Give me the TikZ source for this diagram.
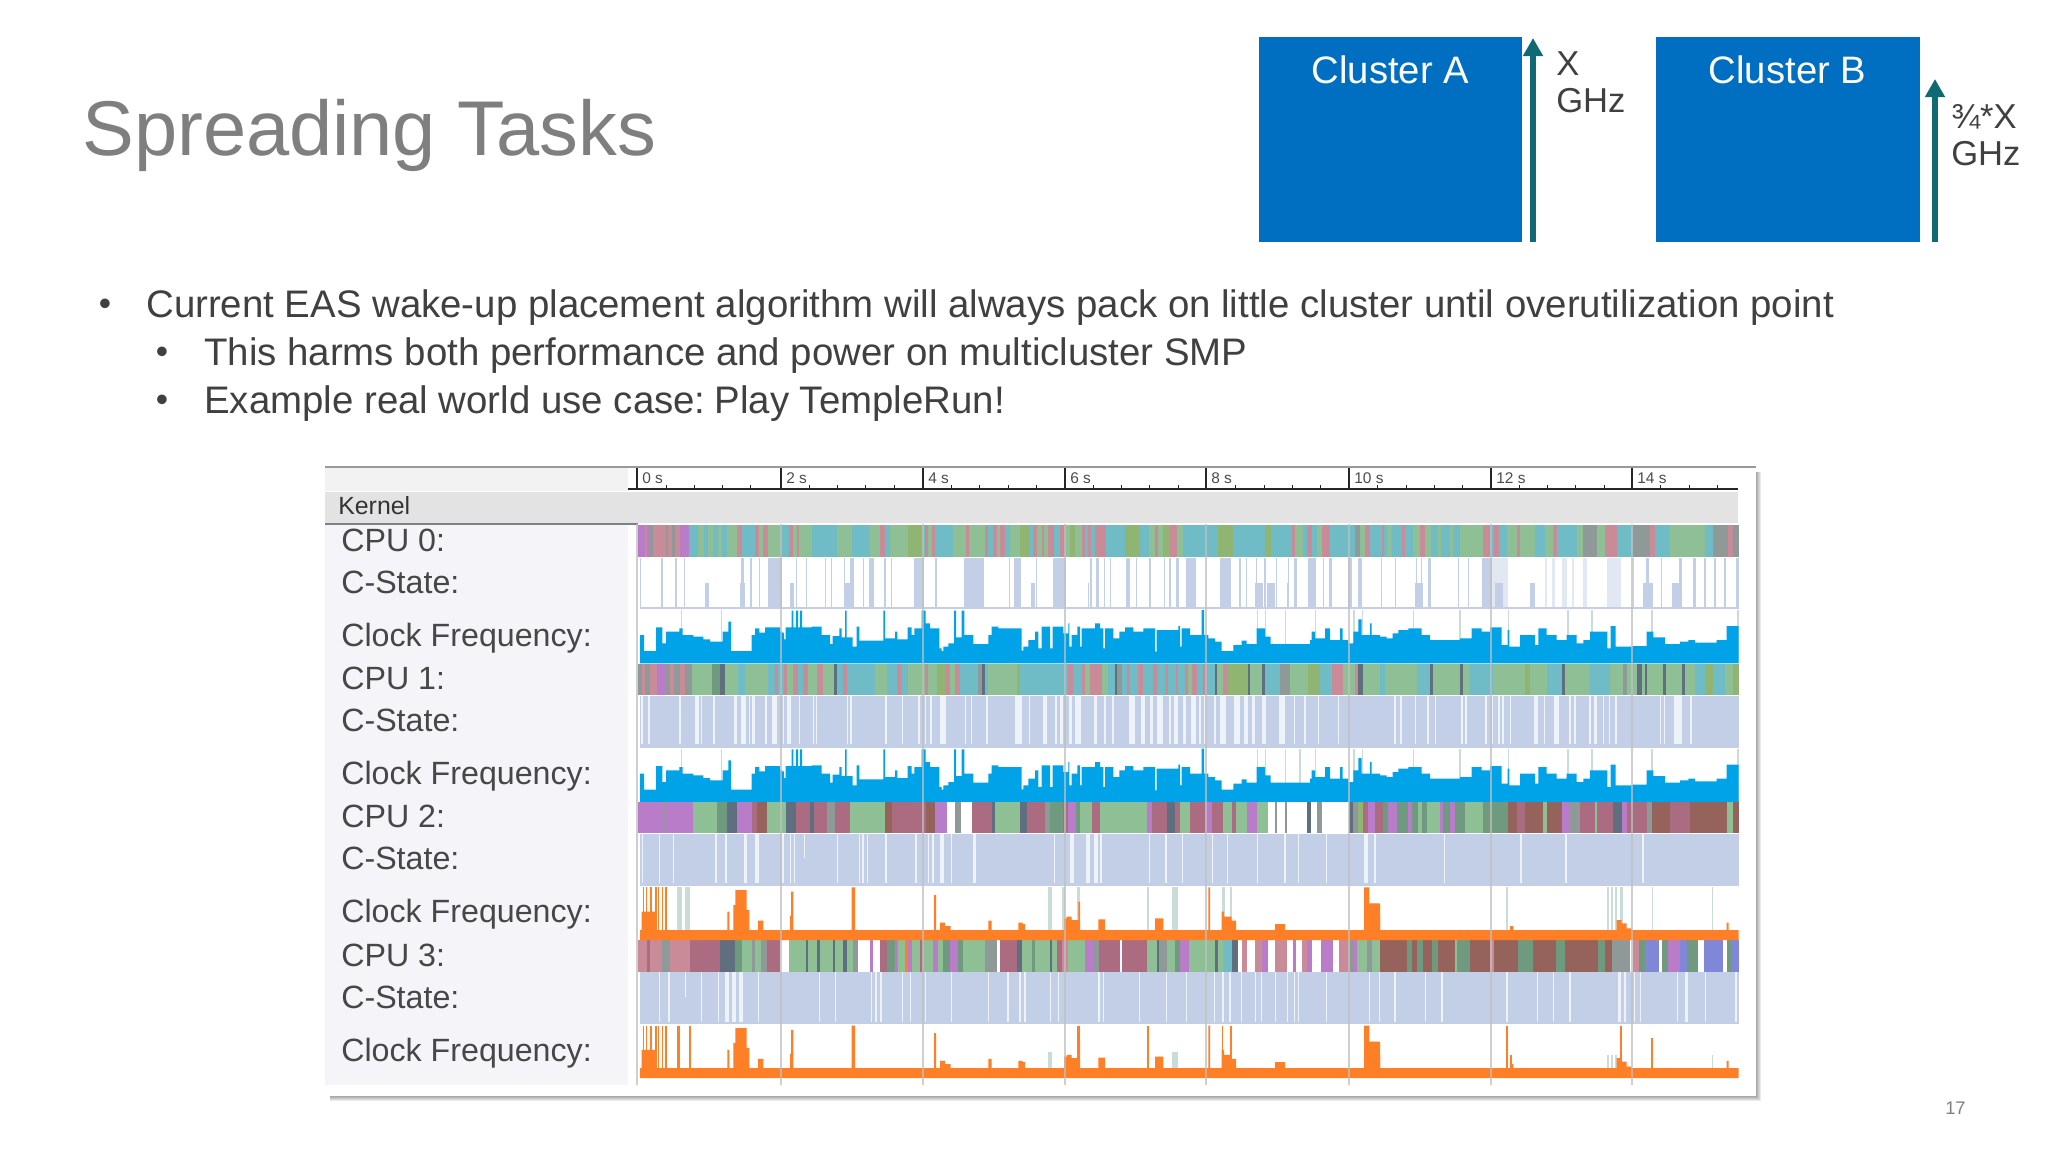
\documentclass[tikz,border=0pt]{standalone}
\usepackage{fontspec}
\setmainfont{Liberation Sans}
\usetikzlibrary{arrows.meta}
\definecolor{titlegray}{HTML}{7F7F7F}
\definecolor{bodygray}{HTML}{404040}
\definecolor{clusterblue}{HTML}{006FC1}
\definecolor{arrowteal}{HTML}{0F6A75}
\definecolor{tl}{HTML}{6FBCC6}
\definecolor{gn}{HTML}{8FBF95}
\definecolor{rs}{HTML}{C98B97}
\definecolor{pp}{HTML}{B87CC8}
\definecolor{mv}{HTML}{AB6C82}
\definecolor{bw}{HTML}{96625C}
\definecolor{ol}{HTML}{90B572}
\definecolor{dk}{HTML}{5F6F80}
\definecolor{dg}{HTML}{6F9A80}
\definecolor{gy}{HTML}{8F9A98}
\definecolor{bl}{HTML}{8086D8}
\definecolor{csbase}{HTML}{C3CFE6}
\definecolor{idlewhite}{HTML}{EEF2F9}
\definecolor{sidepanel}{HTML}{F5F5F9}
\definecolor{freqblue}{HTML}{00A2E8}
\definecolor{freqorange}{HTML}{FF7F27}
\definecolor{pale}{HTML}{C9DCD8}
\tikzset{
  panel/.style 2 args={shift={(#1,#2)},scale=0.33333},
  slidetext/.style={inner sep=0pt,anchor=base west,text=bodygray,font=\fontsize{27.3}{30}\selectfont},
  freqtext/.style={inner sep=0pt,anchor=base west,text=bodygray,font=\fontsize{24.6}{30}\selectfont},
  bulletmark/.style={inner sep=0pt,anchor=center,text=bodygray,font=\fontsize{25}{30}\selectfont},
  clustertext/.style={inner sep=0pt,anchor=base,text=white,font=\fontsize{27.2}{30}\selectfont},
  tracktext/.style={inner sep=0pt,anchor=base west,text=black!72,font=\fontsize{22.9}{26}\selectfont},
  freqarrow/.style={arrowteal,line width=4.3pt,-{Triangle[width=13.5pt,length=12.8pt]}},
}
\newcommand{\bars}[4]{\foreach \a/\b in {#4} {\fill[#1] (\a,#2) rectangle (\b,#3);}}
\newcommand{\idlebars}[5]{\foreach \a/\b in {#5} {\fill[#1] (\a-#4,#2) rectangle (\b+#4,#3);}}
\newcommand{\cpustrip}[4]{\foreach \e/\c [remember=\e as \s (initially #3)] in {#4} {\fill[\c] (\s,#1) rectangle (\e,#2);}}
\newcommand{\freqwave}[4]{\fill[#1] (#2,#3) \foreach \e/\l in #4 { |- (\e,\l) } -- cycle;}
\newcommand{\bluea}{42/345,78/393,97/322,108/370,148/335,158/325,190/345,220/350,240/358,278/365,295/335,303/305,365/393,375/345,388/325,405/338,450/322,456/335,462/338,467/358,485/322,490/272,498/322,504/272,510/322,516/272,545/322,575/320,600/345,608/372,628/348,635/325,645/352,650/272,668/352,680/380,688/320,745/362,760/362,765/272,795/355,802/335,833/358,845/322,853/345,875/325,887/272,900/310,928/325,935/385,940/393,955/380,972/370,978/272,995/352,1003/272,1030/345,1075/372,1085/345,1105/320,1140/325,1140/430}
\newcommand{\blueb}{65/325,70/392,85/380,105/360,115/335,125/385,150/320,158/385,190/320,205/340,208/310,215/380,232/345,240/320,245/380,285/325,300/310,310/325,315/385,340/325,358/355,375/335,400/322,430/335,465/325,470/395,535/330,540/318,545/380,570/325,605/345,612/270,625/345,645/355,665/365,700/393,725/375,740/362,770/372,795/325,812/350,930/372,935/360,945/335,975/355,990/325,1020/360,1028/325,1045/360,1060/370,1075/335,1085/298,1110/345,1115/310,1140/345,1140/430}
\newcommand{\bluec}{50/350,68/355,85/340,115/330,155/325,180/345,270/360,305/355,335/325,360/335,395/322,413/375,418/330,450/380,495/345,505/375,530/325,560/345,590/360,620/345,640/370,660/360,712/335,722/385,737/318,787/380,830/378,850/335,885/352,930/372,955/365,975/360,1040/368,1070/360,1106/318,1106/430}
\newcommand{\orangea}{35/390,75/335,292/390,298/335,310/390,316/315,350/270,358/330,384/390,400/362,480/390,483/347,490/275,665/390,675/262,912/390,918/285,930/390,945/368,962/378,1075/390,1085/362,1140/390,1140/420}
\newcommand{\orangeb}{55/390,68/368,75/372,192/390,200/355,215/350,235/360,240/305,295/390,315/358,465/390,490/355,625/390,630/262,665/390,672/335,695/350,708/362,825/390,855/372,1092/390,1108/262,1128/310,1140/350,1140/420}
\newcommand{\orangec}{5/310,18/310,30/365,420/390,430/378,740/390,755/360,770/370,785/385,1070/390,1076/368,1106/390,1106/420}
\begin{document}
\begin{tikzpicture}[x=0.025cm,y=-0.025cm]
\useasboundingbox (0,0) rectangle (2048,1152);
\fill[white] (0,0) rectangle (2048,1152);
\node[inner sep=0pt,anchor=base west,text=titlegray,font=\fontsize{55.2}{60}\selectfont] (title) at (82,155) {Spreading Tasks};
\fill[clusterblue] (1259,37) rectangle (1522,242);
\fill[clusterblue] (1656,37) rectangle (1920,242);
\node[clustertext] (clusterA) at (1390.5,83) {Cluster A};
\node[clustertext] (clusterB) at (1787.5,83) {Cluster B};
\coordinate (arrowAbase) at (1533,242);
\coordinate (arrowAtip) at (1533,38);
\coordinate (arrowBbase) at (1935,242);
\coordinate (arrowBtip) at (1935,79);
\draw[freqarrow] (arrowAbase) -- (arrowAtip);
\draw[freqarrow] (arrowBbase) -- (arrowBtip);
\node[freqtext] (xlabel) at (1556,75) {X};
\node[freqtext] (ghzA) at (1556,112) {GHz};
\node[freqtext] (xfrac) at (1951,128) {¾*X};
\node[freqtext] (ghzB) at (1951,165) {GHz};
\node[bulletmark] (bulletA) at (105,307) {•};
\node[slidetext] (lineA) at (146,317) {Current EAS wake-up placement algorithm will always pack on little cluster until overutilization point};
\node[bulletmark] (bulletB) at (162,355) {•};
\node[slidetext] (lineB) at (204,365) {This harms both performance and power on multicluster SMP};
\node[bulletmark] (bulletC) at (162,403) {•};
\node[slidetext] (lineC) at (204,413) {Example real world use case:\kern-3.7pt{} Play TempleRun!};
\foreach \d in {1,...,6} {\fill[black,opacity=0.08] (330,472) rectangle (1755+\d,1095+\d);}
\fill[white] (325,467) rectangle (1756,1096);
\fill[black!5] (325,468) rectangle (628,491);
\fill[sidepanel] (325,525) rectangle (628,1085);
\fill[black!11] (325,492) rectangle (1738,523);
\draw[black!40,line width=1.5pt] (325,467) -- (1756,467);
\draw[black!50,line width=1pt] (325,524) -- (638,524);
\draw[black!85,line width=1.2pt] (628,489) -- (1738,489);
\foreach \x/\t in {637/0,781/2,923/4,1065/6,1206/8,1349/10,1491/12,1632/14} {
  \draw[black!85,line width=0.8pt] (\x,468) -- (\x,489);
  \node[inner sep=0pt,anchor=base west,text=black!70,font=\fontsize{11}{12}\selectfont] (tick\t) at (\x+5,483) {\t\ s};
}
\foreach \x in {666,694,722,750,809,837,865,894,951,979,1008,1036,1093,1121,1149,1178,1235,1264,1292,1320,1377,1406,1434,1462,1519,1547,1575,1604,1660,1689,1717} {
  \draw[black!85,line width=0.7pt] (\x,489) -- (\x,485);
}
\node[inner sep=0pt,anchor=base west,text=black!80,font=\fontsize{17.7}{20}\selectfont] (kernel) at (338,514) {Kernel};
\foreach \n [evaluate=\n as \dy using \n*138.4] in {0,...,3} {
  \node[tracktext] (cpu\n) at (341,551+\dy) {CPU \n:};
  \node[tracktext] (cstate\n) at (341,593+\dy) {C-State:};
  \node[tracktext] (clock\n) at (341,646+\dy) {Clock Frequency:};
}
\foreach \y in {557.7,696,834,972} {\fill[csbase] (640,\y) rectangle (1738.7,\y+51.5);}
\begin{scope}[panel={630}{520}]
\cpustrip{15}{110}{23}{45/pp,50/rs,58/pp,68/gy,107/rs,115/gy,125/rs,135/gy,150/rs,178/pp,205/tl,222/gn,235/tl,250/gn,265/tl,275/gn,290/tl,320/gn,335/rs,375/tl,388/rs,400/gn,413/rs,453/gn,478/tl,488/rs,500/gn,507/rs,545/gn,620/tl,665/gn,720/tl,750/gn,765/rs,780/tl,835/gn,880/ol,885/tl,893/rs,905/gn,915/rs,970/tl,1008/gn,1018/rs,1065/gn,1075/rs,1090/tl,1100/rs,1110/gn,1125/rs,1140/tl}
\idlebars{white}{113}{262}{3}{36/44,48/62,68/74,78/90,102/132,143/158,168/197,202/210,213/222,226/238,242/250,256/272,280/285,292/300,305/330,345/358,370/384,392/398,405/412,460/468,472/482,490/495,503/512,520/526,534/546,552/560,568/582,590/600,608/640,648/656,675/695,705/715,735/760,770/780,790/798,805/825,830/850,885/912,925/945,950/970,975/1000,1065/1085,1090/1100,1105/1115,1120/1135}
\bars{csbase}{190}{262}{226/238,330/345,480/492,645/660}
\cpustrip{432}{525}{23}{35/gy,45/rs,60/gy,80/rs,105/pp,120/gy,132/rs,150/gy,165/rs,185/gy,245/gn,270/dg,285/dk,325/gn,345/tl,415/gn,435/tl,445/rs,462/tl,470/rs,490/gn,505/rs,520/tl,535/rs,560/gn,580/rs,612/gn,620/dk,640/tl,650/rs,735/tl,770/gn,800/tl,815/rs,835/tl,885/gn,895/rs,920/gn,945/ol,960/rs,975/gn,990/rs,1045/tl,1055/gy,1065/dk,1075/tl,1140/gn}
\idlebars{idlewhite}{527}{673}{-1}{32/40,52/60,145/153,193/207,212/218,248/255,310/322,332/348,355/360,365/375,405/412,425/442,458/463,470/484,505/512,548/552,558/562,650/656,660/668,765/771,815/820,862/870,885/890,898/906,928/950,1005/1010,1022/1027,1068/1076}
\bars{pale}{430}{270}{154/157,274/277}
\freqwave{freqblue}{30}{430}{\bluea}
\end{scope}
\begin{scope}[panel={1000}{520}]
\cpustrip{15}{110}{30}{60/gn,90/ol,100/tl,110/rs,125/gn,132/rs,145/gn,163/rs,180/tl,195/rs,210/gn,225/ol,245/gn,255/rs,265/tl,272/rs,285/tl,318/rs,375/tl,420/ol,448/tl,465/gn,475/rs,490/gn,510/ol,530/rs,550/gn,655/tl,700/ol,795/tl,812/ol,875/tl,885/rs,910/gn,920/tl,935/rs,950/tl,965/gn,990/rs,1065/tl,1080/gy,1095/gn,1110/rs,1140/tl}
\idlebars{white}{113}{262}{3}{32/40,65/78,85/105,115/125,128/140,145/155,200/225,228/235,240/245,250/268,280/285,300/310,318/328,335/345,350/375,392/405,415/425,430/445,455/468,475/490,498/505,515/525,540/555,590/605,612/618,625/632,640/658,695/715,725/735,745/765,775/790,800/825,835/860,870/880,895/920,950/965,975/985,1000/1040,1060/1070,1090/1140}
\bars{csbase}{190}{262}{92/105,265/268,765/790,800/825,860/868}
\cpustrip{432}{525}{30}{50/gn,60/ol,205/tl,218/rs,245/tl,255/rs,270/gn,305/rs,325/gn,345/tl,352/dk,365/gy,380/tl,390/rs,415/tl,430/rs,460/tl,470/rs,495/tl,505/rs,528/tl,535/rs,555/tl,565/rs,575/gn,590/rs,610/tl,620/rs,645/tl,652/dk,670/gn,685/rs,745/ol,750/dk,785/gn,795/dk,840/tl,870/gy,925/gn,960/ol,995/tl,1030/rs,1065/gn,1075/rs,1090/dk,1140/gn}
\idlebars{idlewhite}{527}{673}{-1}{45/68,85/92,128/142,165/172,178/190,205/217,225/245,280/293,312/318,335/342,385/405,422/435,448/460,470/490,505/515,520/535,548/560,572/590,595/605,612/618,640/650,660/678,700/722,730/745,755/765,785/800,835/855,880/885,912/920,952/958,1012/1018}
\bars{pale}{430}{270}{771/775,795/799,855/859,945/949,1060/1064,1085/1089}
\bars{freqblue}{430}{270}{606/611}
\freqwave{freqblue}{30}{430}{\blueb}
\end{scope}
\begin{scope}[panel={1370}{520}]
\cpustrip{15}{110}{30}{35/tl,42/rs,50/tl,65/gn,95/tl,105/rs,130/tl,150/gn,165/rs,182/gn,205/tl,213/gn,240/tl,250/gn,270/tl,340/gn,360/rs,372/tl,388/rs,410/tl,440/gn,450/rs,495/gn,525/tl,550/gn,560/rs,620/tl,640/gn,680/gy,705/gn,740/rs,790/tl,840/gy,855/rs,900/tl,975/gn,1005/gn,1030/tl,1075/gy,1090/rs,1106/gy}
\idlebars{white}{113}{262}{3}{38/50,58/72,80/95,102/135,145/150,160/170,185/190,195/205,210/220,225/245,252/262,270/278,285/292,300/320,325/333,418/495,500/525,530/545,555/575,590/605,612/640,650/675,680/712,720/745,752/785,795/800,808/825,840/850,855/870,880/905,912/925,940/965,980/1000,1010/1030,1040/1060,1070/1095}
\bars{csbase!50!white}{113}{262}{365/415,525/530,545/555,575/590,605/612,640/650,712/752}
\bars{csbase}{190}{262}{135/160,375/400,480/495,820/850,905/930}
\cpustrip{432}{525}{30}{45/tl,140/gn,180/tl,190/dk,270/gn,280/dk,300/gn,370/tl,465/gn,480/ol,530/gn,575/tl,585/dk,660/gn,720/tl,760/gn,770/gy,800/gn,815/dk,825/gn,832/dk,880/gn,888/dk,935/gn,945/dk,975/gn,1005/tl,1030/ol,1065/tl,1090/gn,1106/ol}
\idlebars{idlewhite}{527}{673}{-1}{72/80,90/96,133/140,170/178,193/200,272/280,285/293,345/352,365/370,382/390,395/402,420/425,492/505,520/525,552/567,597/603,612/620,657/663,670/682,697/703,715/722,735/741,870/875,880/887,912/938,960/967}
\bars{pale}{430}{270}{128/132,268/272,413/418,592/596,664/668,843/848,1102/1106}
\freqwave{freqblue}{30}{430}{\bluec}
\end{scope}
\begin{scope}[panel={630}{658.67}]
\bars{pale}{430}{270}{154/157,274/277}
\freqwave{freqblue}{30}{430}{\bluea}
\end{scope}
\begin{scope}[panel={1000}{658.67}]
\bars{pale}{430}{270}{771/775,795/799,855/859,898/902,945/949,1060/1064,1085/1089}
\bars{freqblue}{430}{270}{606/611}
\freqwave{freqblue}{30}{430}{\blueb}
\end{scope}
\begin{scope}[panel={1370}{658.67}]
\bars{pale}{430}{270}{128/132,268/272,413/418,592/596,664/668,843/848,1102/1106}
\freqwave{freqblue}{30}{430}{\bluec}
\end{scope}
\begin{scope}[panel={630}{800}]
\cpustrip{7}{100}{23}{98/pp,108/gy,190/pp,262/gn,290/dg,320/dk,365/pp,380/mv,412/bw,468/gn,497/dk,540/mv,552/dk,590/mv,615/gy,660/mv,765/gn,785/bw,888/mv,915/bw,950/pp,975/white,992/gy,1025/white,1085/mv,1095/dk,1140/gn}
\idlebars{idlewhite}{102}{250}{-1}{36/41,85/91,127/132,255/261,285/291,340/352,375/387,455/462,478/485,490/496,520/526,620/626,685/690,695/702,710/716,765/771,855/861,893/898,905/912,930/942,962/967,1028/1039}
\bars{csbase}{175}{250}{520/526}
\cpustrip{420}{515}{23}{50/rs,60/mv,95/rs,120/gy,180/rs,205/mv,270/mv,315/dk,335/dg,365/gn,375/gy,392/gn,412/gy,450/mv,478/white,528/gn,535/dk,560/gn,570/dk,610/gn,615/dk,640/gn,650/dk,670/gn,685/gy,720/white,728/pp,750/white,770/mv,795/dg,805/pp,825/gn,835/freqorange,845/pp,870/gn,880/mv,910/gn,925/pp,940/gn,960/dg,985/pp,1000/dg,1065/gn,1100/gy,1110/white,1140/mv}
\idlebars{idlewhite}{517}{665}{-1}{85/91,113/120,165/170,212/218,262/268,285/298,305/320,325/340,382/388,565/572,613/620,722/728,735/742,750/757,815/820,838/844,883/888,962/968,1072/1078,1130/1136}
\bars{csbase}{590}{665}{165/170}
\bars{freqorange}{262}{390}{38/42,47/52,60/65,75/80,85/88,95/98,105/112}
\bars{pale}{262}{390}{140/155,165/180}
\freqwave{freqorange}{30}{420}{\orangea}
\end{scope}
\begin{scope}[panel={1000}{800}]
\cpustrip{7}{100}{30}{60/gn,80/dk,135/mv,150/gy,190/dg,205/mv,228/pp,240/dg,275/gn,300/mv,440/gn,455/pp,500/mv,525/dk,540/mv,570/gn,615/mv,635/pp,670/mv,697/gn,707/mv,740/gn,770/pp,805/gn,825/white,830/gy,855/white,862/gy,922/white,932/dk,950/white,965/gy,1048/white,1058/dk,1075/gy,1090/ol,1105/mv,1125/pp,1140/mv}
\idlebars{idlewhite}{102}{250}{-1}{162/167,208/222,258/270,282/295,300/308,447/452,495/501,544/549,635/641,680/685,770/775,850/858,892/897,977/981,1092/1105}
\cpustrip{420}{515}{30}{50/mv,65/dk,70/gn,95/gn,105/dg,150/gn,155/dk,172/gn,185/mv,205/rs,255/gn,280/pp,298/gy,320/mv,360/mv,365/white,380/mv,440/mv,470/gn,478/dk,500/gy,525/gn,540/dg,568/pp,645/gn,655/dk,670/gn,697/tl,715/dk,725/white,742/rs,765/white,785/rs,803/pp,825/white,860/rs,880/white,888/pp,905/white,920/rs,935/pp,962/white,1000/pp,1018/white,1050/rs,1060/gy,1072/pp,1100/gn,1115/gy,1140/gn}
\idlebars{idlewhite}{517}{665}{-1}{20/27,57/65,70/80,150/155,172/178,293/300,307/314,417/422,497/503,556/561,640/646,665/672,685/695,722/727,765/770,782/788,825/830,860/866,880/886,892/897,977/982,1105/1110}
\bars{pale}{262}{390}{145/155,185/195,230/240,442/446,515/535,665/675,690/695}
\freqwave{freqorange}{30}{420}{\orangeb}
\end{scope}
\begin{scope}[panel={1370}{800}]
\cpustrip{7}{100}{30}{40/mv,55/dg,80/pp,115/dg,125/pp,145/dg,155/gn,170/dg,210/gn,220/pp,240/dg,255/pp,285/dg,340/gn,415/dg,440/bw,465/mv,520/bw,530/gn,575/bw,600/pp,630/gy,675/mv,680/gn,730/mv,755/dk,770/pp,830/mv,845/gy,900/bw,960/mv,1070/bw,1090/gn,1106/bw}
\idlebars{idlewhite}{102}{250}{-1}{10/18,220/226,450/456,585/591,815/822}
\cpustrip{420}{515}{30}{60/bw,112/bw,125/dg,140/bw,160/dg,185/bw,205/dg,255/bw,262/gn,280/dg,300/dg,360/bw,372/rs,445/bw,490/dg,558/bw,585/dg,635/bw,685/bw,705/dg,725/bw,780/gy,790/white,808/rs,825/dg,868/bl,875/white,895/dg,930/pp,950/bl,985/dg,1003/white,1060/bl,1070/white,1082/dg,1106/bl}
\idlebars{idlewhite}{517}{665}{-1}{25/31,72/78,165/170,213/219,408/414,500/505,547/552,597/603,742/755,760/768,790/795,808/815,920/926,945/955,1005/1010,1095/1101}
\bars{pale}{262}{390}{408/415,750/758,846/850,712/716,722/730,736/740,1026/1030}
\freqwave{freqorange}{30}{420}{\orangec}
\end{scope}
\begin{scope}[panel={630}{938.17}]
\bars{freqorange}{262}{390}{38/42,47/52,60/65,75/80,85/88,95/98,105/112,140/150,178/182}
\freqwave{freqorange}{30}{420}{\orangea}
\end{scope}
\begin{scope}[panel={1000}{938.17}]
\bars{freqorange}{262}{390}{230/240,442/446,665/670,690/695}
\bars{pale}{340}{390}{145/155,515/535}
\freqwave{freqorange}{30}{420}{\orangeb}
\end{scope}
\begin{scope}[panel={1370}{938.17}]
\bars{freqorange}{262}{390}{408/413,750/755}
\bars{freqorange}{298}{390}{842/848}
\bars{freqorange}{350}{390}{420/425}
\bars{pale}{350}{390}{712/716,722/730,736/740,1026/1030}
\freqwave{freqorange}{30}{420}{\orangec}
\end{scope}
\foreach \x in {637,781,923,1065,1206,1349,1491,1632} {
  \draw[black!25,line width=1pt,opacity=0.75] (\x,524) -- (\x,1085);
}
\node[inner sep=0pt,anchor=base west,text=black!50,font=\fontsize{13}{14}\selectfont] (pagenum) at (1945,1114) {17};
\end{tikzpicture}
\end{document}
